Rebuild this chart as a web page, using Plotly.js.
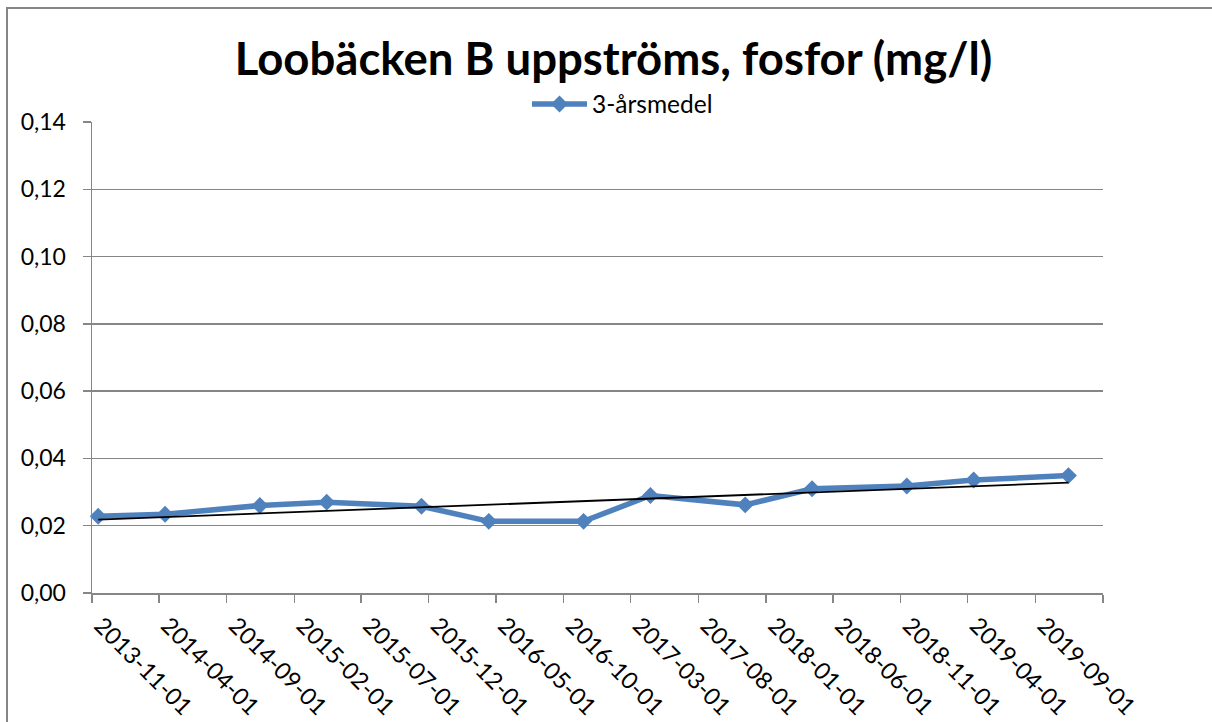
<!DOCTYPE html>
<html>
<head>
<meta charset="utf-8">
<script src="https://cdn.plot.ly/plotly-3.0.1.min.js"></script>
<style>
html, body { margin: 0; padding: 0; background: #ffffff; }
#chart { width: 1212px; height: 722px; }
</style>
</head>
<body>
<div id="chart"></div>
<script>
// ---- data ----
const chartTitle = "Loobäcken B uppströms, fosfor (mg/l)";
const seriesName = "3-årsmedel";
const dates = ["2013-11-15", "2014-04-15", "2014-11-15", "2015-04-15", "2015-11-15", "2016-04-15", "2016-11-15",
               "2017-04-15", "2017-11-15", "2018-04-15", "2018-11-15", "2019-04-15", "2019-11-15"];
const values = [0.0228, 0.0234, 0.0260, 0.0270, 0.0258, 0.0213, 0.0213, 0.0290, 0.0262, 0.0310, 0.0318, 0.0336, 0.0349];
const tickLabels = ["2013-11-01", "2014-04-01", "2014-09-01", "2015-02-01", "2015-07-01", "2015-12-01", "2016-05-01",
                    "2016-10-01", "2017-03-01", "2017-08-01", "2018-01-01", "2018-06-01", "2018-11-01", "2019-04-01", "2019-09-01"];
const axisEnd = "2020-02-01";
const yTicks = [0, 0.02, 0.04, 0.06, 0.08, 0.10, 0.12, 0.14];

// ---- linear trendline (least squares on the data, like Excel) ----
const tms = dates.map(d => new Date(d + "T00:00:00Z").getTime());
const n = tms.length;
const mx = tms.reduce((a, b) => a + b, 0) / n;
const my = values.reduce((a, b) => a + b, 0) / n;
let sxy = 0, sxx = 0;
for (let i = 0; i < n; i++) { sxy += (tms[i] - mx) * (values[i] - my); sxx += (tms[i] - mx) ** 2; }
const slope = sxy / sxx;
const icpt = my - slope * mx;
const trendX = [dates[0], dates[n - 1]];
const trendY = [icpt + slope * tms[0], icpt + slope * tms[n - 1]];

// ---- layout geometry (pixels) ----
const W = 1212, H = 722;
const L = 92, R = 1103, T = 122, B = 593;
const pw = R - L, ph = B - T;
const px2x = p => (p - L) / pw;
const py2y = p => (B - p) / ph;

const blue = "#4F81BD";
const grid = "#868686";
const font = "Lato, Carlito, Calibri, 'Liberation Sans', sans-serif";

const traces = [
  {
    x: dates, y: values, type: "scatter", mode: "lines+markers", name: seriesName,
    line: { color: blue, width: 5.5 },
    marker: { symbol: "diamond", size: 13, color: blue },
    cliponaxis: false
  },
  {
    x: trendX, y: trendY, type: "scatter", mode: "lines", showlegend: false,
    line: { color: "#000000", width: 1.8 }, hoverinfo: "skip", cliponaxis: false
  }
];

const layout = {
  width: W, height: H,
  margin: { l: L, r: W - R, t: T, b: H - B, pad: 0, autoexpand: false },
  paper_bgcolor: "#ffffff", plot_bgcolor: "#ffffff",
  separators: ", ",
  font: { family: font, color: "#000000", size: 23 },
  title: {
    text: "<b>" + chartTitle + "</b>",
    font: { family: font, size: 45.5, color: "#000000" },
    xref: "container", yref: "container",
    x: 613.5 / W, xanchor: "center",
    y: 1 - 59 / H, yanchor: "middle"
  },
  showlegend: true,
  legend: {
    orientation: "h",
    xref: "container", yref: "container",
    x: 527 / W, xanchor: "left",
    y: 1 - 104 / H, yanchor: "middle",
    font: { family: font, size: 24.5, color: "#000000" },
    itemwidth: 55,
    bgcolor: "rgba(0,0,0,0)",
    tracegroupgap: 0
  },
  xaxis: {
    type: "date",
    range: [tickLabels[0], axisEnd],
    tickmode: "array",
    tickvals: tickLabels.concat([axisEnd]),
    ticktext: tickLabels.concat([""]),
    tickangle: 45,
    ticks: "outside", ticklen: 8, tickwidth: 1.5, tickcolor: grid,
    showline: true, linecolor: grid, linewidth: 1.5,
    showgrid: false, zeroline: false,
    tickfont: { family: font, size: 23.5, color: "#000000" },
    ticklabelshift: 9,
    ticklabelstandoff: 0,
    fixedrange: true
  },
  yaxis: {
    range: [0, 0.14],
    tickmode: "array",
    tickvals: yTicks,
    tickformat: ".2f",
    ticks: "outside", ticklen: 8, tickwidth: 1.5, tickcolor: grid,
    showline: true, linecolor: grid, linewidth: 1.5,
    showgrid: true, gridcolor: grid, gridwidth: 1.5,
    zeroline: false,
    tickfont: { family: font, size: 23, color: "#000000" },
    ticklabelstandoff: 12,
    fixedrange: true
  },
  shapes: [
    {
      type: "rect", xref: "paper", yref: "paper", layer: "below",
      x0: px2x(7), x1: px2x(1230), y0: py2y(740), y1: py2y(8),
      line: { color: grid, width: 2 }, fillcolor: "rgba(0,0,0,0)"
    }
  ]
};

Plotly.newPlot("chart", traces, layout, { displayModeBar: false, staticPlot: true });
</script>
</body>
</html>
